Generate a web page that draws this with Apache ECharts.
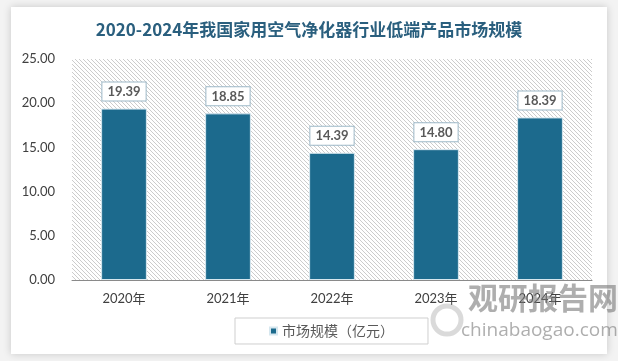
<!DOCTYPE html>
<html><head><meta charset="utf-8">
<script src="https://cdn.jsdelivr.net/npm/echarts@6/dist/echarts.min.js"></script>
<style>html,body{margin:0;padding:0;background:#f3f3f3;}#c{width:618px;height:361px;}</style>
</head><body><div id="c"></div>
<script>
const categories = ['2020年','2021年','2022年','2023年','2024年'];
const values = [19.39, 18.85, 14.39, 14.80, 18.39];
const yTicks = [0, 5, 10, 15, 20, 25];
const seriesName = '市场规模（亿元）';
const titleText = '2020-2024年我国家用空气净化器行业低端产品市场规模';

const pc = document.createElement('canvas');
pc.width = 4; pc.height = 4;
const g = pc.getContext('2d');
g.fillStyle = '#ffffff'; g.fillRect(0,0,4,4);
g.strokeStyle = '#cccccc'; g.lineWidth = 1;
g.beginPath(); g.moveTo(-1,-1); g.lineTo(5,5); g.stroke();
g.beginPath(); g.moveTo(-1,3); g.lineTo(1,5); g.stroke();
g.beginPath(); g.moveTo(3,-1); g.lineTo(5,1); g.stroke();

const chart = echarts.init(document.getElementById('c'), null, {renderer:'canvas'});
chart.setOption({
  backgroundColor: '#f3f3f3',
  animation: false,
  graphic: [
    {type:'rect', z:-10, shape:{x:11,y:7,width:596,height:347}, style:{fill:'#ffffff', shadowBlur:8, shadowColor:'rgba(0,0,0,0.18)'}},
    {type:'text', z:10, left:468, top:283, style:{text:'观研报告网', font:'bold 30px "Noto Sans CJK SC"', fill:'rgba(120,120,120,0.6)'}},
    {type:'text', z:10, left:461, top:321, style:{text:'chinabaogao.com', font:'19px "Open Sans"', fill:'rgba(120,120,120,0.6)'}},
    {type:'circle', z:10, shape:{cx:447, cy:320, r:14}, style:{fill:'none', stroke:'rgba(150,150,150,0.35)', lineWidth:5}}
  ],
  title: {
    text: titleText, left: 'center', top: 16,
    textStyle: {fontSize: 17, fontWeight: 'bold', color: '#2a5f7e', fontFamily: '"Noto Sans CJK SC", Lato, sans-serif'}
  },
  grid: {left: 72, right: 26, top: 59, bottom: 81, show: true, borderWidth: 0,
    backgroundColor: {image: pc, repeat: 'repeat'}},
  legend: {
    top: 318, left: 235, itemWidth: 7, itemHeight: 7, icon: 'rect', itemGap: 5,
    padding: [6, 34, 6, 34], borderColor: '#cfcfcf', borderWidth: 1, backgroundColor: '#fff',
    textStyle: {fontSize: 14, color: '#595959', fontFamily: '"Noto Sans CJK SC", sans-serif'},
    data: [seriesName]
  },
  xAxis: {
    type: 'category', data: categories,
    axisLine: {lineStyle: {color: '#8a8a8a', width: 1}},
    axisTick: {show: false},
    axisLabel: {fontSize: 13, color: '#404040', margin: 12, fontFamily: 'Lato, "Noto Sans CJK SC", sans-serif'}
  },
  yAxis: {
    type: 'value', min: yTicks[0], max: yTicks[yTicks.length-1], interval: 5,
    axisLine: {show: false}, axisTick: {show: false}, splitLine: {show: false},
    axisLabel: {fontSize: 13, color: '#404040', margin: 17, fontFamily: 'Lato, sans-serif',
      formatter: v => v.toFixed(2)}
  },
  series: [{
    name: seriesName, type: 'bar', data: values, barWidth: '44%',
    itemStyle: {color: '#1c6a8d', borderColor: '#d6e7ef', borderWidth: 1},
    label: {show: true, position: 'top', distance: 8,
      formatter: p => p.value.toFixed(2),
      backgroundColor: '#fff', borderColor: '#9db8c7', borderWidth: 1, padding: [3, 5, 2, 5],
      fontSize: 13, fontWeight: 'bold', color: '#595959', fontFamily: 'Lato, sans-serif'}
  }]
});
</script></body></html>
